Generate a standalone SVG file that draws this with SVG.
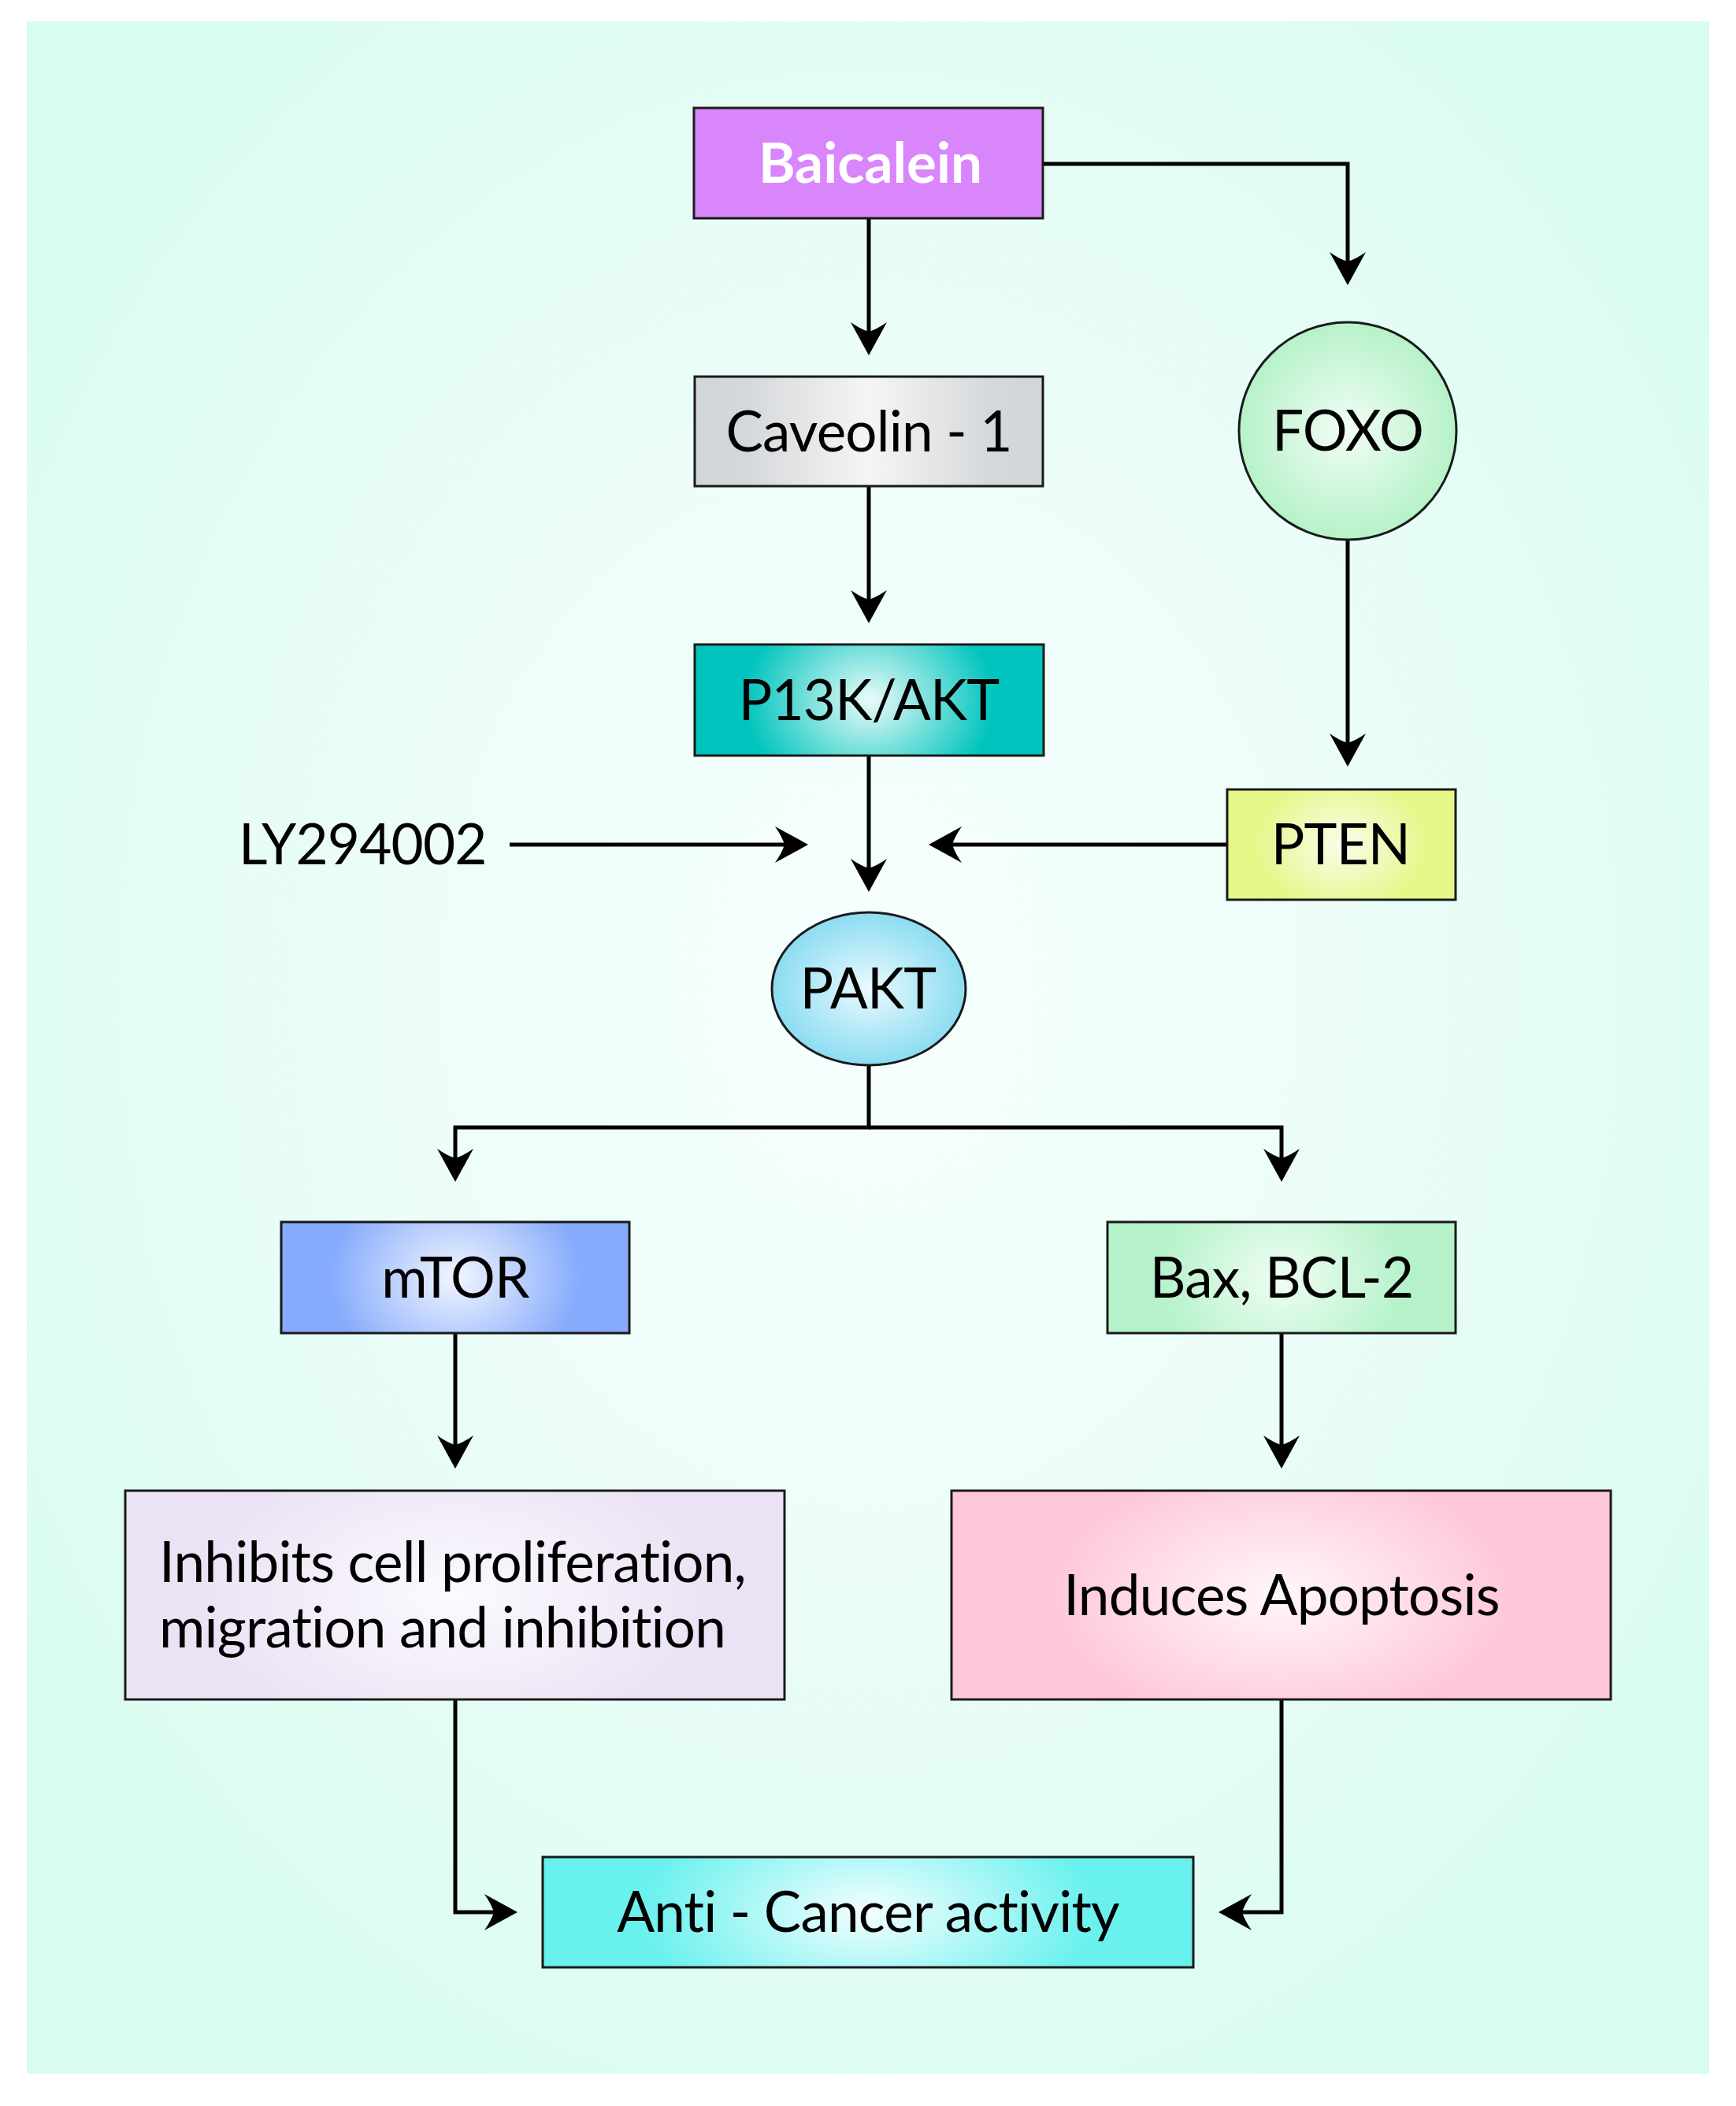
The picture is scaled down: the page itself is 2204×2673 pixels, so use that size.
<svg xmlns="http://www.w3.org/2000/svg" width="2204" height="2673" viewBox="0 0 2204 2673">
<defs>
<style>
.box{stroke:#1a1a1a;stroke-width:3}
.lbl{font-family:Lato,"Noto Sans","Liberation Sans",sans-serif;font-size:71px;letter-spacing:-0.8px;fill:#000;text-anchor:middle}
.bold{font-weight:bold;fill:#fff;font-size:71px;letter-spacing:0}
.conn{fill:none;stroke:#000;stroke-width:5;marker-end:url(#ah)}
</style>
<marker id="ah" viewBox="-14 -25 46 50" markerWidth="46" markerHeight="50" refX="0" refY="0" markerUnits="userSpaceOnUse" orient="auto">
<path d="M30,0 L-12,-23 Q-3,-10 0,0 Q-3,10 -12,23 Z" fill="#000"/>
</marker>
<radialGradient id="bg" cx="0.5" cy="0.47" r="0.62">
<stop offset="0" stop-color="#f7fffe"/>
<stop offset="0.5" stop-color="#ebfdf8"/>
<stop offset="1" stop-color="#d8fcf0"/>
</radialGradient>
<linearGradient id="gCav" x1="0" y1="0" x2="1" y2="0">
<stop offset="0" stop-color="#d3d6d9"/><stop offset="0.15" stop-color="#d5d8db"/><stop offset="0.5" stop-color="#f5f5f5"/><stop offset="0.85" stop-color="#d5d8db"/><stop offset="1" stop-color="#d3d6d9"/>
</linearGradient>
<radialGradient id="gPI" cx=".5" cy=".5" r=".5" gradientTransform="translate(.5 .5) scale(1 2.6) translate(-.5 -.5)">
<stop offset="0" stop-color="#eafbf9"/><stop offset="0.72" stop-color="#00c4bd"/><stop offset="1" stop-color="#00c4bd"/>
</radialGradient>
<radialGradient id="gFOXO" cx=".5" cy=".5" r=".5">
<stop offset="0" stop-color="#f2fdf6"/><stop offset="1" stop-color="#b6f2c8"/>
</radialGradient>
<radialGradient id="gPTEN" cx=".5" cy=".5" r=".5" gradientTransform="translate(.5 .5) scale(1 1.6) translate(-.5 -.5)">
<stop offset="0" stop-color="#fbfdec"/><stop offset="0.78" stop-color="#e4f787"/><stop offset="1" stop-color="#e4f787"/>
</radialGradient>
<radialGradient id="gPAKT" cx=".5" cy=".5" r=".5">
<stop offset="0" stop-color="#eafafd"/><stop offset="1" stop-color="#8cdcf2"/>
</radialGradient>
<radialGradient id="gMTOR" cx=".5" cy=".5" r=".5" gradientTransform="translate(.5 .5) scale(1 2.6) translate(-.5 -.5)">
<stop offset="0" stop-color="#f2f6fe"/><stop offset="0.72" stop-color="#86abfc"/><stop offset="1" stop-color="#86abfc"/>
</radialGradient>
<radialGradient id="gBAX" cx=".5" cy=".5" r=".5" gradientTransform="translate(.5 .5) scale(1 2.6) translate(-.5 -.5)">
<stop offset="0" stop-color="#f0fdf4"/><stop offset="0.72" stop-color="#b5f2c9"/><stop offset="1" stop-color="#b5f2c9"/>
</radialGradient>
<radialGradient id="gINH" cx=".5" cy=".5" r=".5" gradientTransform="translate(.5 .5) scale(1 1.8) translate(-.5 -.5)">
<stop offset="0" stop-color="#fcfaff"/><stop offset="0.78" stop-color="#ebe3f5"/><stop offset="1" stop-color="#ebe3f5"/>
</radialGradient>
<radialGradient id="gIND" cx=".5" cy=".5" r=".5" gradientTransform="translate(.5 .5) scale(1 1.8) translate(-.5 -.5)">
<stop offset="0" stop-color="#fff7fa"/><stop offset="0.72" stop-color="#fec6da"/><stop offset="1" stop-color="#fec6da"/>
</radialGradient>
<radialGradient id="gANTI" cx=".5" cy=".5" r=".5" gradientTransform="translate(.5 .5) scale(1 3) translate(-.5 -.5)">
<stop offset="0" stop-color="#f4fefe"/><stop offset="0.7" stop-color="#69f1ee"/><stop offset="1" stop-color="#69f1ee"/>
</radialGradient>
</defs>

<rect x="0" y="0" width="2204" height="2673" fill="#ffffff"/>
<rect x="34" y="27" width="2136" height="2605" fill="url(#bg)"/>

<g id="connectors">
<path class="conn" d="M1103,277 V421"/>
<path class="conn" d="M1324,208 H1711 V332"/>
<path class="conn" d="M1103,617 V761"/>
<path class="conn" d="M1711,686 V943"/>
<path class="conn" d="M1103,959 V1102"/>
<path class="conn" d="M647,1072 H996"/>
<path class="conn" d="M1558,1072 H1209"/>
<path class="conn" d="M1103,1352 V1431 H578 V1470"/>
<path class="conn" d="M1103,1431 H1627 V1470"/>
<path class="conn" d="M578,1693 V1834"/>
<path class="conn" d="M1627,1693 V1834"/>
<path class="conn" d="M578,2157 V2427 H627"/>
<path class="conn" d="M1627,2157 V2427 H1577"/>
</g>

<g id="baicalein">
<rect class="box" x="881" y="137" width="443" height="140" fill="#d985fc"/>
<text class="lbl bold" x="1105" y="232">Baicalein</text>
</g>
<g id="caveolin">
<rect class="box" x="882" y="478" width="442" height="139" fill="url(#gCav)"/>
<text class="lbl" x="1103" y="573">Caveolin - 1</text>
</g>
<g id="foxo">
<circle class="box" cx="1711" cy="547" r="138" fill="url(#gFOXO)"/>
<text class="lbl" x="1711" y="572">FOXO</text>
</g>
<g id="pi3k">
<rect class="box" x="882" y="818" width="443" height="141" fill="url(#gPI)"/>
<text class="lbl" x="1103" y="914">P13K/AKT</text>
</g>
<g id="pten">
<rect class="box" x="1558" y="1002" width="290" height="140" fill="url(#gPTEN)"/>
<text class="lbl" x="1702" y="1097">PTEN</text>
</g>
<g id="ly294002">
<text class="lbl" x="303" y="1097" style="text-anchor:start">LY294002</text>
</g>
<g id="pakt">
<ellipse class="box" cx="1103" cy="1255" rx="123" ry="97" fill="url(#gPAKT)"/>
<text class="lbl" x="1102" y="1280">PAKT</text>
</g>
<g id="mtor">
<rect class="box" x="357" y="1551" width="442" height="141" fill="url(#gMTOR)"/>
<text class="lbl" x="578" y="1647">mTOR</text>
</g>
<g id="bax">
<rect class="box" x="1406" y="1551" width="442" height="141" fill="url(#gBAX)"/>
<text class="lbl" x="1627" y="1647">Bax, BCL-2</text>
</g>
<g id="inhibits">
<rect class="box" x="159" y="1892" width="837" height="265" fill="url(#gINH)"/>
<text class="lbl" style="text-anchor:start" x="202" y="2008">Inhibits cell proliferation,</text>
<text class="lbl" style="text-anchor:start" x="202" y="2091">migration and inhibition</text>
</g>
<g id="induces">
<rect class="box" x="1208" y="1892" width="837" height="265" fill="url(#gIND)"/>
<text class="lbl" x="1627" y="2050">Induces Apoptosis</text>
</g>
<g id="anticancer">
<rect class="box" x="689" y="2357" width="826" height="140" fill="url(#gANTI)"/>
<text class="lbl" x="1102" y="2452">Anti - Cancer activity</text>
</g>
</svg>
